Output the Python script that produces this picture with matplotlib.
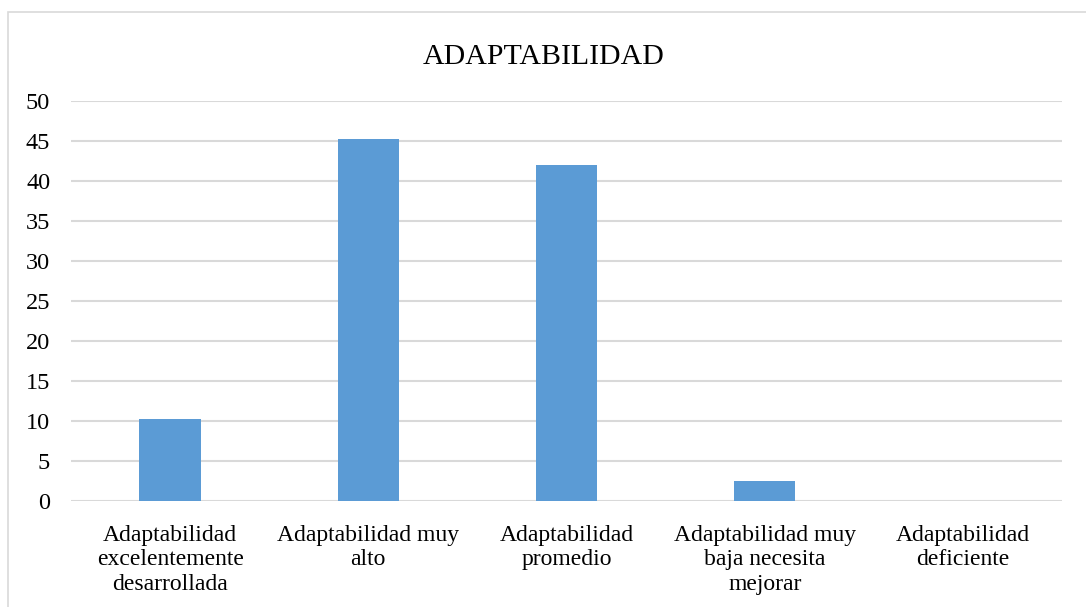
import matplotlib
matplotlib.use("Agg")
import matplotlib.pyplot as plt
from matplotlib.patches import Rectangle

categories = ["Adaptabilidad\nexcelentemente\ndesarrollada",
              "Adaptabilidad muy\nalto",
              "Adaptabilidad\npromedio",
              "Adaptabilidad muy\nbaja necesita\nmejorar",
              "Adaptabilidad\ndeficiente"]
values = [10.2, 45.2, 42.0, 2.5, 0.0]
yticks = [0, 5, 10, 15, 20, 25, 30, 35, 40, 45, 50]
title = "ADAPTABILIDAD"

W, H = 1086, 607
fig = plt.figure(figsize=(W/100, H/100), dpi=100)
plt.rcParams['font.family'] = ['Liberation Serif', 'DejaVu Serif']

fig.patches.append(Rectangle((8/W, -0.1), 1.2, 1 - 12/H + 0.1, transform=fig.transFigure,
                             fill=False, edgecolor='#D9D9D9', linewidth=1.2))

ax = fig.add_axes([71/W, 1 - 501/H, (1062-71)/W, 400/H])
x = list(range(len(categories)))
ax.bar(x, values, width=0.31, color='#5B9BD5', zorder=3)
ax.set_xlim(-0.5, len(categories) - 0.5)
ax.set_ylim(0, 50)
ax.set_yticks(yticks)
ax.set_yticklabels([str(v) for v in yticks], fontsize=17.5)
ax.set_xticks(x)
ax.set_xticklabels(categories, fontsize=17, linespacing=1.22, va='top')
ax.tick_params(axis='both', length=0, colors='black')
ax.tick_params(axis='y', pad=15)
ax.tick_params(axis='x', pad=17)
ax.grid(axis='y', color='#D9D9D9', linewidth=1.5, zorder=0)
for s in ax.spines.values():
    s.set_visible(False)
ax.set_axisbelow(True)

fig.text(544/W, 1 - 57/H, title, ha='center', va='center', fontsize=21.5)

fig.savefig("out.png", dpi=100, facecolor='white')
